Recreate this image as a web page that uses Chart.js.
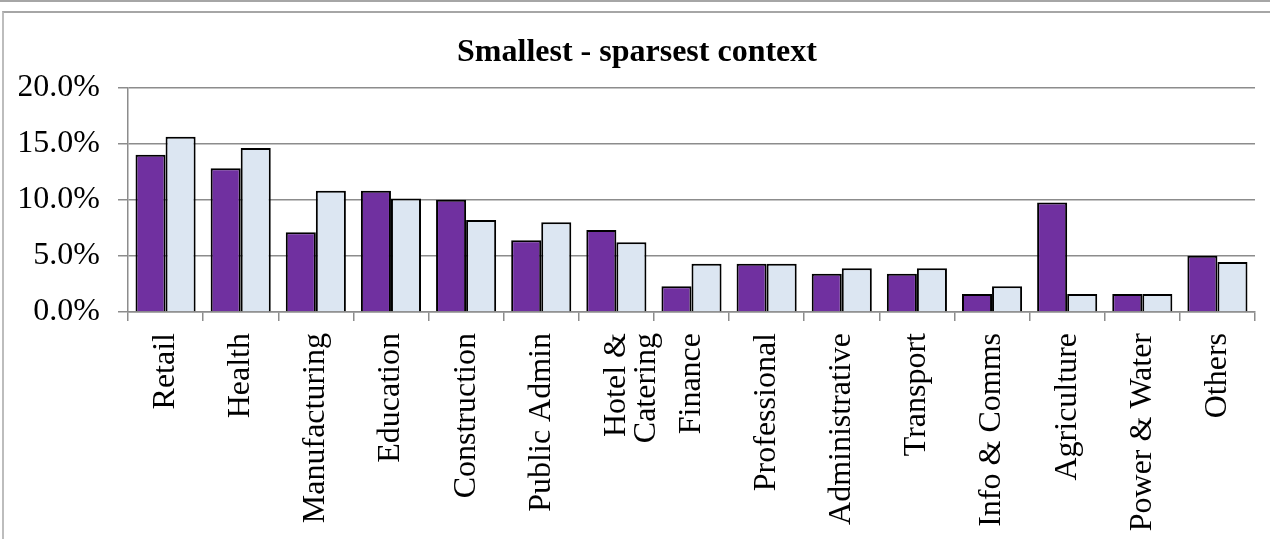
<!DOCTYPE html>
<html>
<head>
<meta charset="utf-8">
<script src="https://cdn.jsdelivr.net/npm/chart.js@4.4.0/dist/chart.umd.min.js"></script>
<style>
  html, body { margin: 0; padding: 0; background: #fff; overflow: hidden; }
  body { width: 1270px; height: 539px; position: relative; }
  #rule { position: absolute; left: 0; right: 0; top: 0; border-top: 2px solid #a6a6a6; }
  #frame { position: absolute; left: 2px; top: 11px; right: 0; bottom: 0;
           border-top: 2px solid #a6a6a6; border-left: 2px solid #bdbdbd; }
  #wrap { position: absolute; left: 0; top: 0; width: 1266px; height: 526px; }
</style>
</head>
<body>
<div id="rule"></div>
<div id="frame">
  <div id="wrap"><canvas id="sectors"></canvas></div>
</div>
<script>
var sectors = ['Retail', 'Health', 'Manufacturing', 'Education', 'Construction', 'Public Admin',
  ['Hotel &', 'Catering'], 'Finance', 'Professional', 'Administrative', 'Transport',
  'Info & Comms', 'Agriculture', 'Power & Water', 'Others'];

// share of employment, percent
var sparsest = [14.0, 12.8, 7.1, 10.8, 10.0, 6.4, 7.3, 2.3, 4.3, 3.4, 3.4, 1.6, 9.75, 1.6, 5.0];
var allAreas = [15.6, 14.6, 10.8, 10.1, 8.2, 8.0, 6.2, 4.3, 4.3, 3.9, 3.9, 2.3, 1.6, 1.6, 4.45];

var yTicks = [0, 5, 10, 15, 20];

var purple = '#7030A0';
var paleBlue = '#DCE6F2';
var gridGrey = '#8c8c8c';
var serif = "'Liberation Serif', 'Times New Roman', serif";

function loadSectorChart(id_chart, description){
  return new Chart(document.getElementById(id_chart), {
    type: 'bar',
    data: {
      labels: sectors,
      datasets: [
        {
          data: sparsest,
          backgroundColor: purple,
          borderColor: '#000',
          borderWidth: 2
        }, {
          data: allAreas,
          backgroundColor: paleBlue,
          borderColor: '#000',
          borderWidth: 2
        }
      ]
    },
    options: {
      responsive: true,
      maintainAspectRatio: false,
      animation: false,
      categoryPercentage: 0.8,
      barPercentage: 1.0,
      layout: { padding: { left: 15, right: 15, top: 0, bottom: 0 } },
      plugins: {
        legend: { display: false },
        tooltip: { enabled: false },
        title: {
          display: true,
          text: description,
          color: '#000',
          font: { family: serif, size: 32, weight: 'bold', lineHeight: 1.2 },
          padding: { top: 21, bottom: 15 }
        }
      },
      scales: {
        x: {
          offset: true,
          grid: {
            offset: true,
            drawOnChartArea: false,
            drawTicks: true,
            tickLength: 9,
            color: gridGrey,
            lineWidth: 1.5
          },
          border: { color: gridGrey, width: 1.5 },
          ticks: {
            autoSkip: false,
            minRotation: 90,
            maxRotation: 90,
            padding: 12,
            color: '#000',
            font: { family: serif, size: 32, lineHeight: 0.95 }
          },
          afterFit: function(scale){ scale.height = 227; }
        },
        y: {
          min: 0,
          max: 20,
          afterBuildTicks: function(scale){
            scale.ticks = yTicks.map(function(v){ return { value: v }; });
          },
          grid: {
            color: gridGrey,
            lineWidth: 1.5,
            tickLength: 10
          },
          border: { color: gridGrey, width: 1.5 },
          ticks: {
            padding: 18,
            color: '#000',
            font: { family: serif, size: 32 },
            callback: function(v){ return v.toFixed(1) + '%'; }
          },
          afterFit: function(scale){ scale.width = 109; }
        }
      }
    }
  });
}

loadSectorChart('sectors', 'Smallest - sparsest context');
</script>
</body>
</html>
